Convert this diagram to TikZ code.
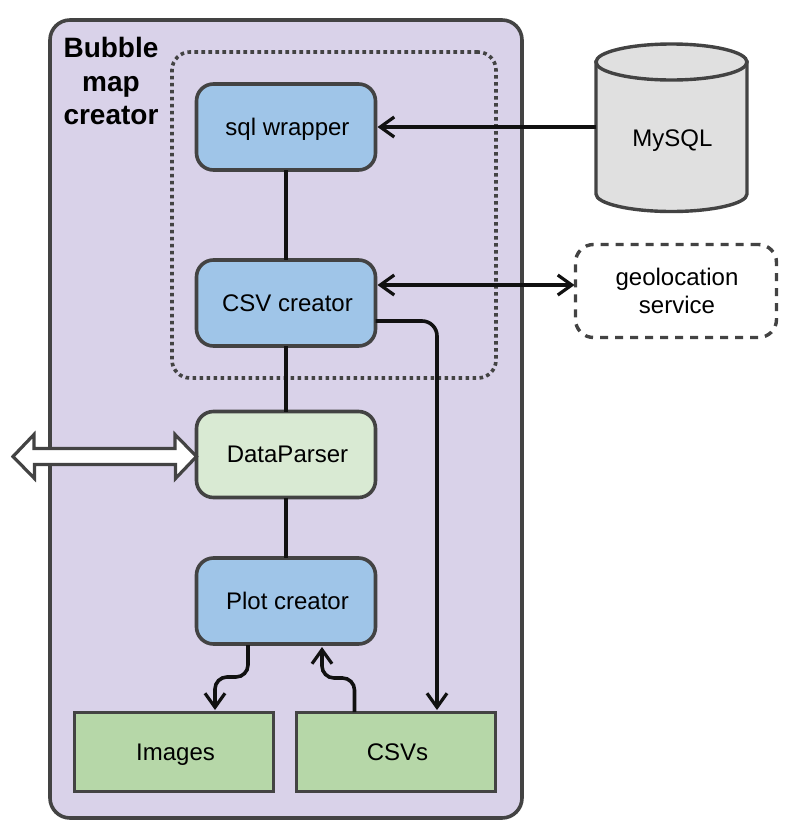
\documentclass[tikz,border=0pt]{standalone}
\usepackage{fontspec}
\setmainfont{Liberation Sans}
\usetikzlibrary{arrows.meta,calc}
\definecolor{edgegray}{HTML}{434343}
\definecolor{wirecol}{HTML}{111111}
\definecolor{purplebg}{HTML}{D9D2E9}
\definecolor{bluefill}{HTML}{9FC5E8}
\definecolor{palegreen}{HTML}{D9EAD3}
\definecolor{midgreen}{HTML}{B6D7A8}
\definecolor{cylgray}{HTML}{E0E0E0}
\tikzset{
  x=1pt,y=-1pt,
  every node/.style={font=\fontsize{24}{28}\selectfont,text=black,inner sep=0pt,outer sep=0pt},
  nudged/.style={text height=17pt,text depth=1pt,execute at begin node=\hspace*{3pt}},
  block/.style={nudged,draw=edgegray,line width=3.6pt,minimum width=179pt,minimum height=86pt,rounded corners=17pt},
  bluebox/.style={block,fill=bluefill},
  parserbox/.style={block,fill=palegreen},
  storebox/.style={nudged,draw=edgegray,line width=3.6pt,fill=midgreen,minimum width=199pt,minimum height=79pt},
  wire/.style={draw=wirecol,line width=3.6pt},
  tip/.tip={Straight Barb[length=14pt,width=20pt,line width=3.2pt]},
  arrowwire/.style={wire,-{tip},shorten >=2pt},
  bothwire/.style={wire,{tip}-{tip},shorten >=1pt,shorten <=2pt},
  dbline/.style={draw=edgegray,line width=3.4pt,fill=cylgray},
}
\begin{document}
\begin{tikzpicture}
\useasboundingbox (0,0) rectangle (796,836);
% containers
\node[draw=edgegray,line width=3.6pt,fill=purplebg,rounded corners=20pt,minimum width=472pt,minimum height=798pt] (outer) at (286,419) {};
\node[draw=edgegray,line width=3.6pt,dash pattern=on 3.6pt off 3.4pt,rounded corners=18pt,minimum width=324pt,minimum height=326pt] (group) at (334,215) {};
\node[font=\fontsize{28}{33.5}\selectfont\bfseries,align=center] (title) at (111,81) {Bubble\\map\\creator};
% blocks
\node[bluebox] (sql) at (286,127) {sql wrapper};
\node[bluebox] (csv) at (286,303) {CSV creator};
\node[parserbox] (dp) at (286,454.5) {DataParser};
\node[bluebox] (plot) at (286,601) {Plot creator};
\node[storebox] (img) at (174,752) {Images};
\node[storebox] (csvs) at (396,752) {CSVs};
% external: database cylinder
\node[minimum width=151pt,minimum height=168pt] (db) at (671.5,128) {};
\draw[dbline] (596,62) -- (596,194) .. controls (596,203.6) and (630,211.5) .. (671.5,211.5) .. controls (713,211.5) and (747,203.6) .. (747,194) -- (747,62) -- cycle;
\draw[dbline] (671.5,62) ellipse [x radius=75.5,y radius=18];
\node[text height=17pt,text depth=1pt] (dbtext) at (672.5,138) {MySQL};
\node[draw=edgegray,line width=3.4pt,dash pattern=on 8pt off 7pt,rounded corners=18pt,fill=white,minimum width=201pt,minimum height=93pt,align=center] (geo) at (676,291) {\hspace*{2pt}geolocation\\\hspace*{2pt}service};
% connectors
\draw[wire] (sql) -- (csv);
\draw[wire] (csv) -- (dp);
\draw[wire] (dp) -- (plot);
\draw[arrowwire] (db.west |- sql.east) -- (sql.east);
\draw[bothwire] (csv.east |- 0,285) -- (geo.west |- 0,285);
\draw[arrowwire,rounded corners=15pt] (csv.east |- 0,321) -- (437,321) -- (437,712);
\draw[arrowwire,rounded corners=12pt] (248,645) -- (248,677) -- (215,677) -- (215,712);
\draw[arrowwire,rounded corners=12pt] (354.5,712) -- (354.5,678) -- (322,678) -- (322,645);
% double arrow to the outside
\coordinate (ext) at (13,456.5);
\draw[draw=edgegray,fill=white,line width=3.2pt,line join=miter]
  (ext) -- ++(21,-22) -- ++(0,14) -- ++(141,0) -- ++(0,-14) -- (dp.west |- ext) -- ++(-21,22) -- ++(0,-14) -- ++(-141,0) -- ++(0,14) -- cycle;
\end{tikzpicture}
\end{document}
